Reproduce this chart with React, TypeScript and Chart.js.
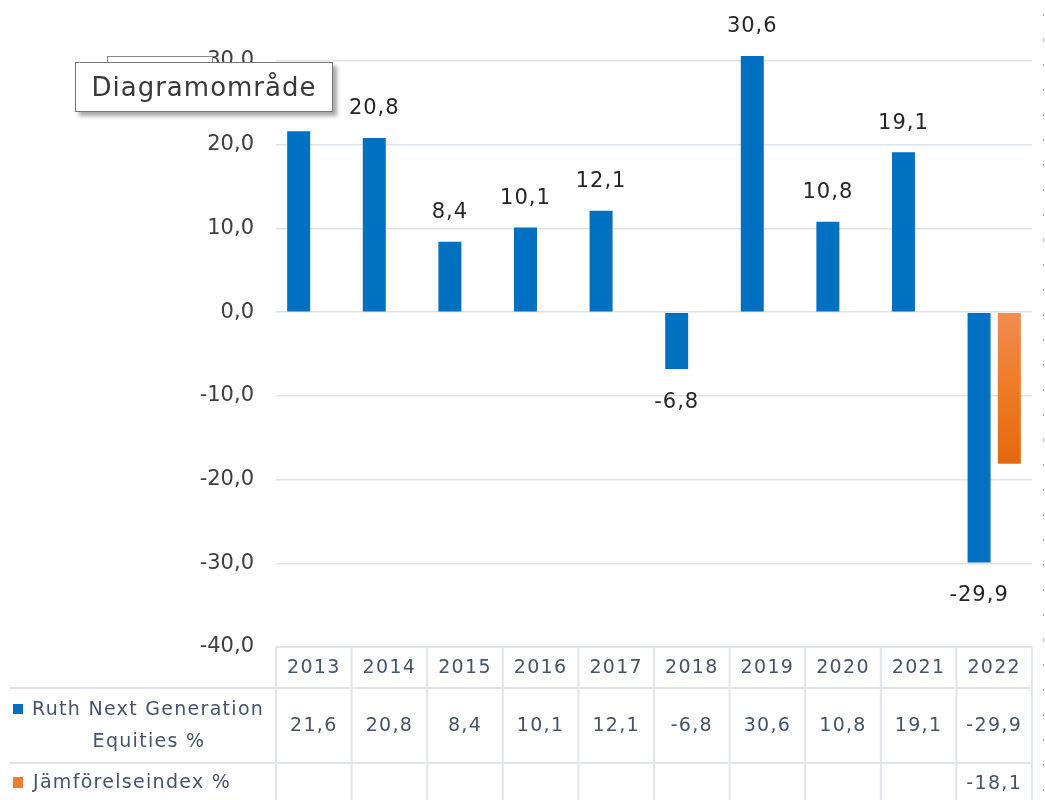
import React, { useEffect, useRef } from "react";
import { Chart, registerables } from "chart.js";

Chart.register(...registerables);

const categories = ["2013", "2014", "2015", "2016", "2017", "2018", "2019", "2020", "2021", "2022"];
const fundValues = [21.6, 20.8, 8.4, 10.1, 12.1, -6.8, 30.6, 10.8, 19.1, -29.9];
const indexValues: (number | null)[] = [null, null, null, null, null, null, null, null, null, -18.1];
const seriesNames = ["Ruth Next Generation Equities %", "Jämförelseindex %"];
const yMin = -40;
const yMax = 30;
const yStep = 10;

const FONT = "'DejaVu Sans', sans-serif";
const fmt = (v: number) => v.toFixed(1).replace(".", ",");

const labelPlugin = {
  id: "valueLabels",
  afterDatasetsDraw(chart: any) {
    const ctx = chart.ctx;
    const meta = chart.getDatasetMeta(0);
    ctx.save();
    ctx.font = `21px ${FONT}`;
    (ctx as any).letterSpacing = "1px";
    ctx.fillStyle = "#262626";
    ctx.textAlign = "center";
    ctx.textBaseline = "middle";
    meta.data.forEach((bar: any, i: number) => {
      const v = fundValues[i];
      const y = v >= 0 ? bar.y - 29 : bar.y + 33;
      ctx.fillText(fmt(v), bar.x, y);
    });
    ctx.restore();
  },
};

const tablePlugin = {
  id: "dataTable",
  afterDraw(chart: any) {
    const ctx = chart.ctx;
    const area = chart.chartArea;
    const left = area.left;
    const right = area.right;
    const w = (right - left) / categories.length;
    const top = area.bottom;
    const headBottom = top + 41;
    const row1Bottom = headBottom + 75;
    const bottom = chart.height;
    ctx.save();
    ctx.strokeStyle = "#e0e5ec";
    ctx.lineWidth = 2;
    ctx.beginPath();
    ctx.moveTo(left, top);
    ctx.lineTo(right, top);
    ctx.moveTo(10, headBottom);
    ctx.lineTo(right, headBottom);
    ctx.moveTo(10, row1Bottom);
    ctx.lineTo(right, row1Bottom);
    for (let i = 0; i <= categories.length; i++) {
      const x = left + i * w;
      ctx.moveTo(x, top);
      ctx.lineTo(x, bottom);
    }
    ctx.stroke();

    ctx.fillStyle = "#44546a";
    ctx.font = `19px ${FONT}`;
    (ctx as any).letterSpacing = "1.3px";
    ctx.textAlign = "center";
    ctx.textBaseline = "middle";
    categories.forEach((c, i) => {
      const cx = left + (i + 0.5) * w;
      ctx.fillText(c, cx, top + 21);
      ctx.fillText(fmt(fundValues[i]), cx, headBottom + 38);
      const iv = indexValues[i];
      if (iv !== null && iv !== undefined) ctx.fillText(fmt(iv), cx, row1Bottom + 21);
    });

    // legend keys
    ctx.fillStyle = "#0070c0";
    ctx.fillRect(13, 704, 10, 10);
    ctx.fillStyle = "#ed7d31";
    ctx.fillRect(13, 777, 10, 11);
    ctx.fillStyle = "#44546a";
    ctx.textAlign = "left";
    ctx.fillText("Ruth Next Generation", 32, 710);
    ctx.textAlign = "center";
    ctx.fillText("Equities %", 149, 742);
    ctx.textAlign = "left";
    ctx.fillText(seriesNames[1], 33, 783);

    // dotted guide at right edge
    (ctx as any).letterSpacing = "0px";
    ctx.strokeStyle = "#a0a0a0";
    ctx.lineWidth = 1;
    ctx.setLineDash([2, 23]);
    ctx.beginPath();
    ctx.moveTo(1043.5, 14);
    ctx.lineTo(1043.5, 800);
    ctx.stroke();
    ctx.restore();
  },
};

export default function App() {
  const ref = useRef<HTMLCanvasElement | null>(null);
  useEffect(() => {
    if (!ref.current) return;
    const chart = new Chart(ref.current, {
      type: "bar",
      data: {
        labels: categories,
        datasets: [
          {
            label: seriesNames[0],
            data: fundValues,
            backgroundColor: "#0070c0",
            borderWidth: 0,
            clip: false as any,
          },
          {
            label: seriesNames[1],
            data: indexValues,
            backgroundColor: (c: any) => {
              const ch = c.chart;
              if (!ch.chartArea || !ch.scales.y) return "#ed7d31";
              const y0 = ch.scales.y.getPixelForValue(0);
              const y1 = ch.scales.y.getPixelForValue(-18.1);
              const g = ch.ctx.createLinearGradient(0, y0, 0, y1);
              g.addColorStop(0, "#f08c52");
              g.addColorStop(0.5, "#f07b25");
              g.addColorStop(1, "#e2690f");
              return g;
            },
            borderWidth: 0,
          },
        ],
      },
      options: {
        responsive: false,
        animation: false,
        categoryPercentage: 0.8,
        barPercentage: 0.76,
        layout: { padding: { left: 0, right: 13, top: 61, bottom: 153 } },
        plugins: {
          legend: { display: false },
          tooltip: { enabled: false },
          title: { display: false },
        },
        scales: {
          x: { display: false },
          y: {
            min: yMin,
            max: yMax,
            ticks: {
              stepSize: yStep,
              callback: (v: any) => fmt(Number(v)),
              font: { family: FONT, size: 21 },
              color: "#404040",
              padding: 22,
            },
            grid: { color: "#dde2ea", lineWidth: 1.5, drawTicks: false },
            border: { display: false },
            afterFit: (s: any) => {
              s.width = 276;
            },
          },
        },
      },
      plugins: [labelPlugin, tablePlugin],
    });
    return () => chart.destroy();
  }, []);

  return (
    <div style={{ position: "fixed", left: 0, top: 0, width: 1045, height: 800, background: "#fff", overflow: "hidden" }}>
      <canvas ref={ref} width={1045} height={800} style={{ display: "block" }} />
      <div
        style={{
          position: "absolute",
          left: 107,
          top: 56,
          width: 104,
          height: 50,
          border: "1px solid #8a8a8a",
          background: "#fff",
        }}
      />
      <div
        style={{
          position: "absolute",
          left: 75,
          top: 62,
          width: 256,
          height: 48,
          border: "1px solid #767676",
          background: "#fff",
          boxShadow: "4px 4px 4px rgba(0,0,0,0.35)",
          fontFamily: FONT,
          fontSize: 26,
          letterSpacing: "1px",
          color: "#3a3a3a",
          display: "flex",
          alignItems: "center",
          justifyContent: "center",
          boxSizing: "content-box",
        }}
      >
        Diagramområde
      </div>
    </div>
  );
}
